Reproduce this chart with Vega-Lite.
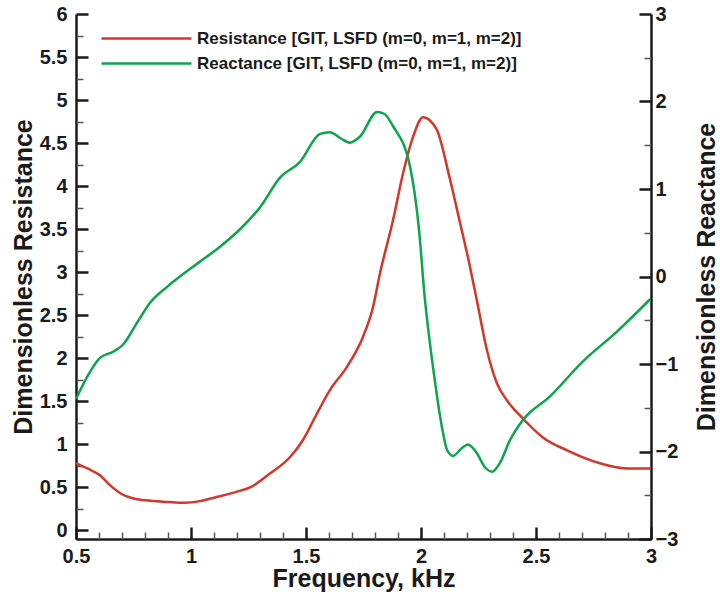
{
  "$schema": "https://vega.github.io/schema/vega-lite/v6.json",
  "width": 575,
  "height": 525,
  "autosize": {"type": "none"},
  "padding": {"left": 76, "top": 14, "right": 69, "bottom": 57},
  "config": {
    "view": {"stroke": null},
    "font": "Liberation Sans",
    "axis": {
      "labelFont": "Liberation Sans",
      "labelFontWeight": "bold",
      "labelFontSize": 20,
      "labelColor": "#1a1a1a",
      "titleFont": "Liberation Sans",
      "titleFontWeight": "bold",
      "titleFontSize": 25,
      "titleColor": "#1a1a1a",
      "domainColor": "#1a1a1a",
      "domainWidth": 2.5,
      "tickColor": "#1a1a1a",
      "grid": false
    },
    "legend": {
      "labelFont": "Liberation Sans",
      "labelFontWeight": "bold",
      "labelFontSize": 17,
      "labelColor": "#1a1a1a",
      "labelLimit": 600,
      "symbolType": "M-4.5,0H4.5",
      "symbolSize": 400,
      "symbolStrokeWidth": 2.5,
      "labelOffset": 39
    }
  },
  "datasets": {
    "resistance": [
      {"f": 0.5, "v": 0.78}, {"f": 0.55, "v": 0.72}, {"f": 0.604, "v": 0.64}, {"f": 0.65, "v": 0.52},
      {"f": 0.7, "v": 0.42}, {"f": 0.75, "v": 0.37}, {"f": 0.8, "v": 0.35}, {"f": 0.9, "v": 0.33},
      {"f": 0.97, "v": 0.32}, {"f": 1.04, "v": 0.34}, {"f": 1.1, "v": 0.38}, {"f": 1.2, "v": 0.45},
      {"f": 1.257, "v": 0.5}, {"f": 1.343, "v": 0.66}, {"f": 1.43, "v": 0.85}, {"f": 1.487, "v": 1.05},
      {"f": 1.548, "v": 1.36}, {"f": 1.604, "v": 1.63}, {"f": 1.678, "v": 1.9}, {"f": 1.748, "v": 2.25},
      {"f": 1.791, "v": 2.59}, {"f": 1.822, "v": 2.99}, {"f": 1.878, "v": 3.6}, {"f": 1.922, "v": 4.15},
      {"f": 1.965, "v": 4.57}, {"f": 2.009, "v": 4.8}, {"f": 2.04, "v": 4.76}, {"f": 2.07, "v": 4.65},
      {"f": 2.126, "v": 4.08}, {"f": 2.17, "v": 3.57}, {"f": 2.21, "v": 3.1}, {"f": 2.243, "v": 2.67},
      {"f": 2.287, "v": 2.09}, {"f": 2.33, "v": 1.71}, {"f": 2.374, "v": 1.51}, {"f": 2.443, "v": 1.3},
      {"f": 2.53, "v": 1.08}, {"f": 2.635, "v": 0.93}, {"f": 2.778, "v": 0.78}, {"f": 2.896, "v": 0.72},
      {"f": 3.0, "v": 0.72}
    ],
    "reactance": [
      {"f": 0.5, "v": -1.4}, {"f": 0.548, "v": -1.15}, {"f": 0.604, "v": -0.93}, {"f": 0.661, "v": -0.86},
      {"f": 0.704, "v": -0.78}, {"f": 0.765, "v": -0.53}, {"f": 0.822, "v": -0.3}, {"f": 0.9, "v": -0.11},
      {"f": 0.952, "v": 0.0}, {"f": 1.039, "v": 0.17}, {"f": 1.126, "v": 0.34}, {"f": 1.213, "v": 0.54},
      {"f": 1.3, "v": 0.79}, {"f": 1.387, "v": 1.13}, {"f": 1.474, "v": 1.31}, {"f": 1.561, "v": 1.63},
      {"f": 1.604, "v": 1.65}, {"f": 1.65, "v": 1.58}, {"f": 1.691, "v": 1.53}, {"f": 1.735, "v": 1.6},
      {"f": 1.809, "v": 1.88}, {"f": 1.84, "v": 1.86}, {"f": 1.878, "v": 1.72}, {"f": 1.952, "v": 1.26},
      {"f": 1.99, "v": 0.57}, {"f": 2.017, "v": -0.26}, {"f": 2.052, "v": -1.03}, {"f": 2.091, "v": -1.72},
      {"f": 2.113, "v": -1.98}, {"f": 2.139, "v": -2.05}, {"f": 2.178, "v": -1.96}, {"f": 2.204, "v": -1.92},
      {"f": 2.243, "v": -2.02}, {"f": 2.278, "v": -2.18}, {"f": 2.309, "v": -2.23}, {"f": 2.343, "v": -2.13},
      {"f": 2.387, "v": -1.87}, {"f": 2.443, "v": -1.64}, {"f": 2.561, "v": -1.37}, {"f": 2.704, "v": -0.97},
      {"f": 2.852, "v": -0.63}, {"f": 2.996, "v": -0.26}
    ]
  },
  "layer": [
    {
      "data": {"name": "resistance"},
      "mark": {"type": "line", "interpolate": "monotone", "strokeWidth": 2.5},
      "encoding": {
        "x": {
          "field": "f", "type": "quantitative",
          "scale": {"domain": [0.5, 3], "nice": false, "zero": false},
          "axis": {
            "orient": "bottom", "title": "Frequency, kHz", "values": [0.5, 1, 1.5, 2, 2.5, 3], "format": "~g",
            "tickSize": -12, "tickWidth": 2.5, "labelPadding": 19, "titlePadding": 0,
            "labelFlush": false, "labelOverlap": false
          }
        },
        "y": {
          "field": "v", "type": "quantitative",
          "scale": {"domain": [-0.1, 6], "nice": false, "zero": false},
          "axis": {
            "orient": "left", "title": "Dimensionless Resistance",
            "values": [0, 0.5, 1, 1.5, 2, 2.5, 3, 3.5, 4, 4.5, 5, 5.5, 6], "format": "~g",
            "tickSize": -12, "tickWidth": 2.5, "labelPadding": 21, "titlePadding": 3,
            "labelFlush": false, "labelOverlap": false
          }
        },
        "color": {
          "datum": "Resistance [GIT, LSFD (m=0, m=1, m=2)]",
          "scale": {
            "domain": ["Resistance [GIT, LSFD (m=0, m=1, m=2)]", "Reactance [GIT, LSFD (m=0, m=1, m=2)]"],
            "range": ["#d2372a", "#0aa64b"]
          },
          "legend": {"title": null, "orient": "none", "legendX": 59, "legendY": 13, "rowPadding": 5}
        }
      }
    },
    {
      "data": {"name": "resistance"},
      "mark": {"type": "line", "opacity": 0},
      "encoding": {
        "x": {
          "field": "f", "type": "quantitative",
          "scale": {"domain": [0.5, 3], "nice": false, "zero": false},
          "axis": {
            "orient": "bottom", "title": null, "labels": false, "domain": false,
            "values": [0.6, 0.7, 0.8, 0.9, 1.1, 1.2, 1.3, 1.4, 1.6, 1.7, 1.8, 1.9, 2.1, 2.2, 2.3, 2.4, 2.6, 2.7, 2.8, 2.9],
            "tickSize": -7, "tickWidth": 1.5, "tickColor": "#555555"
          }
        },
        "y": {
          "field": "v", "type": "quantitative",
          "scale": {"domain": [-0.1, 6], "nice": false, "zero": false},
          "axis": {
            "orient": "left", "title": null, "labels": false, "domain": false,
            "values": [0.25, 0.75, 1.25, 1.75, 2.25, 2.75, 3.25, 3.75, 4.25, 4.75, 5.25, 5.75],
            "tickSize": -7, "tickWidth": 1.5, "tickColor": "#555555"
          }
        }
      }
    },
    {
      "data": {"name": "reactance"},
      "mark": {"type": "line", "interpolate": "monotone", "strokeWidth": 2.5},
      "encoding": {
        "x": {"field": "f", "type": "quantitative", "scale": {"domain": [0.5, 3], "nice": false, "zero": false}, "axis": null},
        "y": {
          "field": "v", "type": "quantitative",
          "scale": {"domain": [-3, 3], "nice": false, "zero": false},
          "axis": {
            "orient": "right", "title": "Dimensionless Reactance", "titleAngle": 270,
            "values": [-3, -2, -1, 0, 1, 2, 3],
            "tickSize": -12, "tickWidth": 2.5, "labelPadding": 16, "titlePadding": 42,
            "labelFlush": false, "labelOverlap": false
          }
        },
        "color": {"datum": "Reactance [GIT, LSFD (m=0, m=1, m=2)]"}
      }
    },
    {
      "data": {"name": "reactance"},
      "mark": {"type": "line", "opacity": 0},
      "encoding": {
        "x": {"field": "f", "type": "quantitative", "scale": {"domain": [0.5, 3], "nice": false, "zero": false}, "axis": null},
        "y": {
          "field": "v", "type": "quantitative",
          "scale": {"domain": [-3, 3], "nice": false, "zero": false},
          "axis": {
            "orient": "right", "title": null, "labels": false, "domain": false,
            "values": [-2.5, -1.5, -0.5, 0.5, 1.5, 2.5],
            "tickSize": -7, "tickWidth": 1.5, "tickColor": "#555555"
          }
        }
      }
    }
  ],
  "resolve": {"scale": {"y": "independent"}, "axis": {"x": "independent", "y": "independent"}}
}
